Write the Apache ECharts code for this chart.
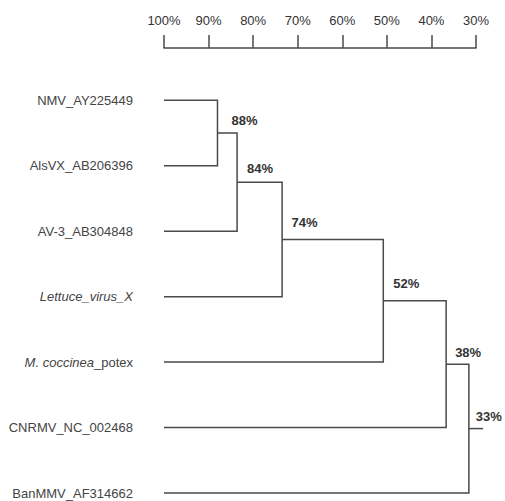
<!DOCTYPE html>
<html>
<head>
<meta charset="utf-8">
<script src="https://cdn.jsdelivr.net/npm/echarts@6/dist/echarts.min.js"></script>
<style>
  html, body { margin: 0; padding: 0; background: #ffffff; }
  #chart { width: 505px; height: 501px; }
</style>
</head>
<body>
<div id="chart"></div>
<script>
// ---- data ----
const leafNames = ['NMV_AY225449', 'AlsVX_AB206396', 'AV-3_AB304848', 'Lettuce_virus_X',
                   'M. coccinea_potex', 'CNRMV_NC_002468', 'BanMMV_AF314662'];
const leafItalicPart = ['', '', '', 'Lettuce_virus_X', 'M. coccinea', '', ''];
const leafSimilarity = 100;
// internal nodes: children ('L'+i for leaf i, 'N'+k for node k)
const nodeChildren = [['L0', 'L1'], ['N0', 'L2'], ['N1', 'L3'], ['N2', 'L4'], ['N3', 'L5'], ['N4', 'L6']];
const nodeLabels = ['88%', '84%', '74%', '52%', '38%', '33%'];
const nodeSimilarity = [88, 83.6, 73.5, 50.8, 36.7, 31.6];
const rootStubSimilarity = 28.4;
const axisTicks = [100, 90, 80, 70, 60, 50, 40, 30];

// ---- styling only ----
const labelNudge = [[14, -13], [10, -14], [9.5, -17], [10, -17.5], [9, -12], [7, -12]];
const lineColor = '#4a4a4a';
const FONT = "Liberation Sans";
const LEAF_FONT = '13px "Liberation Sans", Arial, sans-serif';
const LEAF_FONT_IT = 'italic 13px "Liberation Sans", Arial, sans-serif';

// build node positions (data space)
const pos = {};
leafNames.forEach((n, i) => { pos['L' + i] = [leafSimilarity, i]; });
nodeChildren.forEach((ch, k) => {
  const y = (pos[ch[0]][1] + pos[ch[1]][1]) / 2;
  pos['N' + k] = [nodeSimilarity[k], y];
});

const nodeData = nodeChildren.map((ch, k) => ({ value: [nodeSimilarity[k], pos['N' + k][1], k] }));
const leafData = leafNames.map((n, i) => ({ value: [leafSimilarity, i, i] }));

const measureCtx = document.createElement('canvas').getContext('2d');
function textWidth(t, font) { measureCtx.font = font; return measureCtx.measureText(t).width; }

const chart = echarts.init(document.getElementById('chart'), null, { renderer: 'svg' });

chart.setOption({
  animation: false,
  backgroundColor: '#ffffff',
  grid: { left: 164, right: 29, top: 48, bottom: 8 },
  xAxis: {
    type: 'value', position: 'top', inverse: true,
    min: 30, max: 100, interval: 10,
    axisLine: { show: true, onZero: false, lineStyle: { color: lineColor, width: 1.5 } },
    axisTick: { show: true, inside: false, length: 13, lineStyle: { color: lineColor, width: 1.5 } },
    axisLabel: { show: true, margin: 21, color: '#333', fontSize: 13, fontFamily: FONT,
      formatter: v => axisTicks.indexOf(v) >= 0 ? v + '%' : '' },
    splitLine: { show: false }
  },
  yAxis: {
    type: 'value', inverse: true, min: -0.8, max: 6, show: false
  },
  series: [
    {
      type: 'custom', clip: false, data: nodeData,
      renderItem: function (params, api) {
        const k = api.value(2);
        const ch = nodeChildren[k];
        const a = pos[ch[0]], b = pos[ch[1]], p = pos['N' + k];
        const pts = [api.coord([a[0], a[1]]), api.coord([p[0], a[1]]),
                     api.coord([p[0], b[1]]), api.coord([b[0], b[1]])];
        const pc = api.coord(p);
        const children = [{
          type: 'polyline', shape: { points: pts },
          style: { stroke: lineColor, lineWidth: 1.5, fill: null }
        }, {
          type: 'text',
          x: pc[0] + labelNudge[k][0], y: pc[1] + labelNudge[k][1],
          style: { text: nodeLabels[k], fill: '#333', font: 'bold 13px "Liberation Sans", Arial, sans-serif',
                   align: 'left', verticalAlign: 'middle' }
        }];
        if (k === nodeChildren.length - 1) {
          children.push({
            type: 'line',
            shape: { x1: pc[0], y1: pc[1], x2: api.coord([rootStubSimilarity, p[1]])[0], y2: pc[1] },
            style: { stroke: lineColor, lineWidth: 1.5 }
          });
        }
        return { type: 'group', children: children };
      }
    },
    {
      type: 'custom', clip: false, data: leafData,
      renderItem: function (params, api) {
        const i = api.value(2);
        const c = api.coord([api.value(0), api.value(1)]);
        const xr = c[0] - 31;
        const name = leafNames[i];
        const it = leafItalicPart[i];
        const rest = name.slice(it.length);
        const children = [];
        if (rest) {
          children.push({ type: 'text', x: xr, y: c[1],
            style: { text: rest, font: LEAF_FONT, fill: '#444', align: 'right', verticalAlign: 'middle' } });
        }
        if (it) {
          const w = rest ? textWidth(rest, LEAF_FONT) : 0;
          children.push({ type: 'text', x: xr - w, y: c[1],
            style: { text: it, font: LEAF_FONT_IT, fill: '#444', align: 'right', verticalAlign: 'middle' } });
        }
        return { type: 'group', children: children };
      }
    }
  ]
});
</script>
</body>
</html>
